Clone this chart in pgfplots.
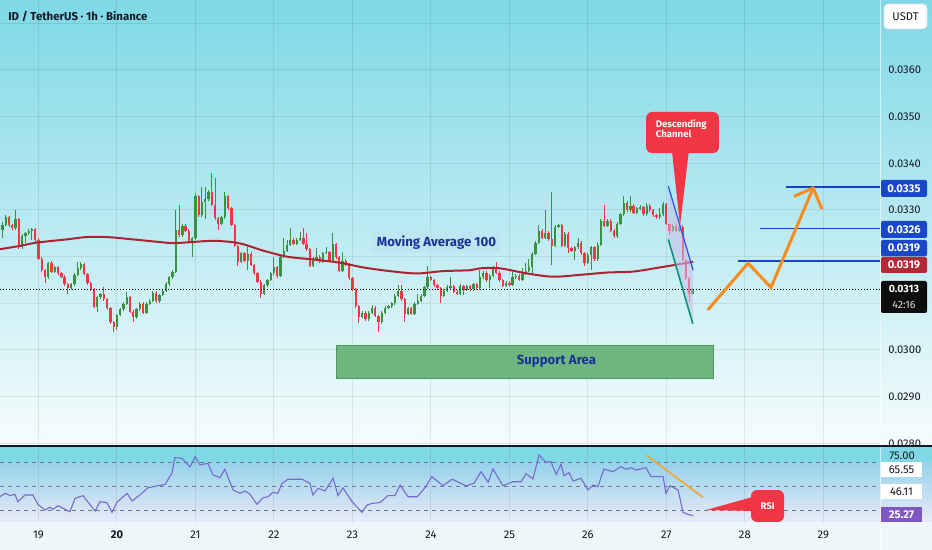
\documentclass[border=0pt]{standalone}
\usepackage{pgfplots}
\pgfplotsset{compat=1.18}
\usepackage{pgfplotstable}
\usepackage{fontspec}
\setmainfont{Fira Sans}
\definecolor{cgreen}{RGB}{56,146,62}
\definecolor{cred}{RGB}{242,54,69}
\definecolor{bgtop}{RGB}{126,216,230}
\definecolor{bgbot}{RGB}{246,252,253}
\definecolor{labcol}{RGB}{19,23,34}
\definecolor{macol}{RGB}{172,36,52}
\definecolor{levblue}{RGB}{22,66,196}
\definecolor{boxblue}{RGB}{24,72,200}
\definecolor{boxred}{RGB}{178,40,52}
\definecolor{orng}{RGB}{245,140,30}
\definecolor{rsiorng}{RGB}{240,170,60}
\definecolor{rsicol}{RGB}{118,106,204}
\definecolor{rsipurple}{RGB}{126,87,194}
\definecolor{suppfill}{RGB}{112,182,128}
\definecolor{suppdraw}{RGB}{80,150,95}
\definecolor{navy}{RGB}{22,52,150}
\definecolor{mabox}{RGB}{190,228,242}
\definecolor{chfill}{RGB}{200,190,235}
\definecolor{chblue}{RGB}{40,80,230}
\definecolor{chgreen}{RGB}{10,150,110}
\definecolor{rsiband}{RGB}{126,216,230}
\definecolor{rsitop}{RGB}{150,210,236}
\definecolor{rsibot}{RGB}{234,234,248}
\definecolor{datebg}{RGB}{238,248,250}
\definecolor{dashcol}{RGB}{110,120,135}

\pgfplotstableread{
t o h l c
-11 325.7 327.4 324.0 326.8
-10 326.8 328.9 326.5 328.4
-9 328.4 328.7 326.4 326.8
-8 326.8 327.1 325.8 326.1
-7 326.1 330.0 325.7 328.0
-6 328.0 328.3 321.7 322.0
-5 322.0 324.8 321.6 324.4
-4 324.4 325.3 322.9 325.0
-3 325.0 325.9 324.7 325.6
-2 325.6 326.2 323.6 325.9
-1 325.9 326.2 323.2 323.6
0 323.6 323.9 319.2 319.6
1 319.6 319.9 316.8 317.1
2 317.1 317.4 314.3 315.6
3 315.6 318.9 315.2 318.6
4 318.6 319.0 316.4 316.8
5 316.8 318.0 316.4 317.7
6 317.7 318.0 316.1 316.4
7 316.4 316.7 315.4 315.7
8 315.7 316.0 313.8 314.1
9 314.1 314.4 312.1 313.2
10 313.2 314.4 312.9 314.1
11 314.1 316.4 313.8 316.1
12 316.1 318.9 315.8 317.5
13 317.5 318.9 317.2 318.4
14 318.4 318.7 316.0 316.3
15 316.3 316.6 314.0 314.3
16 314.3 314.6 312.6 312.9
17 312.9 313.2 309.0 309.3
18 309.3 311.6 308.2 311.3
19 311.3 312.3 311.0 312.0
20 312.0 313.4 310.6 310.9
21 310.9 311.2 308.6 308.9
22 308.9 309.2 305.6 305.9
23 305.9 306.2 303.9 305.0
24 305.0 307.8 304.3 307.5
25 307.5 309.0 307.2 308.7
26 308.7 310.2 308.4 309.9
27 309.9 312.5 309.6 311.3
28 311.3 311.6 307.9 308.2
29 308.2 308.5 306.1 307.0
30 307.0 309.0 306.7 308.7
31 308.7 310.2 308.4 309.9
32 309.9 310.2 307.7 308.0
33 308.0 310.2 307.7 309.9
34 309.9 310.9 309.6 310.6
35 310.6 312.6 310.3 312.3
36 312.3 312.6 310.1 310.4
37 310.4 312.1 310.1 311.8
38 311.8 313.0 311.5 312.7
39 312.7 314.6 312.4 314.1
40 314.1 315.9 313.8 315.6
41 315.6 317.1 315.3 316.8
42 316.8 330.0 316.5 325.7
43 325.7 331.1 324.3 324.6
44 324.6 326.9 324.3 326.6
45 326.6 326.9 325.3 325.6
46 325.6 325.9 322.9 323.2
47 323.2 324.2 320.0 323.9
48 323.9 333.6 323.6 332.9
49 332.9 333.2 328.6 328.9
50 328.9 335.0 328.6 331.8
51 331.8 335.0 328.0 332.3
52 332.3 334.2 332.0 333.9
53 333.9 337.9 330.8 331.1
54 331.1 336.8 327.9 328.2
55 328.2 328.5 325.7 327.1
56 327.1 328.7 326.8 328.4
57 328.4 333.9 328.1 332.9
58 332.9 333.2 330.1 330.4
59 330.4 330.7 326.5 326.8
60 326.8 327.1 322.0 322.3
61 322.3 322.6 317.9 318.9
62 318.9 321.0 318.6 320.7
63 320.7 321.0 318.8 319.1
64 319.1 322.5 317.1 320.6
65 320.6 320.9 317.9 318.2
66 318.2 318.5 316.1 316.4
67 316.4 316.7 314.3 314.6
68 314.6 314.9 311.1 312.0
69 312.0 314.2 311.7 313.9
70 313.9 315.3 313.6 315.0
71 315.0 316.7 314.7 316.4
72 316.4 320.0 316.1 317.7
73 317.7 318.0 315.4 315.9
74 315.9 320.3 315.6 320.0
75 320.0 323.9 319.7 321.3
76 321.3 323.6 321.0 322.5
77 322.5 326.1 322.2 323.6
78 323.6 323.9 322.4 322.7
79 322.7 323.9 322.4 323.6
80 323.6 325.3 323.3 323.9
81 323.9 326.1 322.4 322.7
82 322.7 325.0 321.3 321.6
83 321.6 321.9 317.7 318.0
84 318.0 319.9 317.7 319.6
85 319.6 321.8 319.3 320.0
86 320.0 320.3 318.6 318.9
87 318.9 321.1 318.6 320.8
88 320.8 322.1 320.5 321.0
89 321.0 321.3 318.8 319.1
90 319.1 325.0 318.8 322.7
91 322.7 323.0 319.6 319.9
92 319.9 320.2 316.7 317.0
93 317.0 321.1 316.7 319.1
94 319.1 319.4 318.1 318.4
95 318.4 318.7 315.1 315.4
96 315.4 315.7 312.7 313.0
97 313.0 313.3 309.1 309.4
98 309.4 309.7 305.7 307.1
99 307.1 308.3 306.8 308.0
100 308.0 308.3 306.3 306.6
101 306.6 308.3 306.3 308.0
102 308.0 309.6 307.7 309.1
103 309.1 309.4 307.0 307.3
104 307.3 307.6 303.9 305.9
105 305.9 308.3 305.6 308.0
106 308.0 309.4 307.7 309.1
107 309.1 309.7 308.8 309.4
108 309.4 310.3 309.1 310.0
109 310.0 312.1 309.7 311.6
110 311.6 313.9 311.3 312.7
111 312.7 313.9 310.6 310.9
112 310.9 311.2 306.1 307.7
113 307.7 309.3 307.4 309.0
114 309.0 309.3 307.4 307.7
115 307.7 310.2 307.4 309.9
116 309.9 312.1 309.6 310.6
117 310.6 311.9 310.3 311.6
118 311.6 313.7 311.3 313.4
119 313.4 317.9 313.1 315.6
120 315.6 315.9 314.7 315.0
121 315.0 315.3 313.6 313.9
122 313.9 314.2 312.9 313.2
123 313.2 313.5 310.0 311.6
124 311.6 313.0 311.3 312.7
125 312.7 313.9 312.4 313.4
126 313.4 315.7 313.1 313.7
127 313.7 314.0 312.2 312.5
128 312.5 312.8 311.8 312.1
129 312.1 314.2 311.8 313.7
130 313.7 314.0 311.8 312.9
131 312.9 314.0 312.6 313.7
132 313.7 314.0 312.7 313.0
133 313.0 314.4 312.7 314.1
134 314.1 314.4 312.9 313.2
135 313.2 317.1 312.9 315.6
136 315.6 316.9 315.3 316.6
137 316.6 316.9 314.6 314.9
138 314.9 316.2 313.2 315.9
139 315.9 318.0 315.6 317.7
140 317.7 318.9 316.3 316.6
141 316.6 316.9 314.6 314.9
142 314.9 315.2 313.4 313.7
143 313.7 314.7 313.4 314.4
144 314.4 314.7 313.7 314.0
145 314.0 316.8 313.7 315.6
146 315.6 316.2 315.3 315.9
147 315.9 316.2 314.8 315.1
148 315.1 317.5 314.8 316.3
149 316.3 318.6 316.0 317.0
150 317.0 319.6 316.7 317.7
151 317.7 321.0 316.3 320.6
152 320.6 323.3 320.3 323.0
153 323.0 326.8 322.7 325.6
154 325.6 325.9 323.8 324.1
155 324.1 330.0 323.8 325.1
156 325.1 325.4 323.4 323.7
157 323.7 333.9 318.2 322.3
158 322.3 326.7 322.0 326.4
159 326.4 327.1 326.1 326.7
160 326.7 327.0 322.0 322.3
161 322.3 325.2 322.0 324.9
162 324.9 325.2 320.7 321.8
163 321.8 322.1 321.0 321.3
164 321.3 322.3 319.3 322.0
165 322.0 323.9 321.7 323.0
166 323.0 323.3 320.4 320.7
167 320.7 321.0 317.9 318.7
168 318.7 320.7 318.4 320.4
169 320.4 322.3 317.1 322.0
170 322.0 322.3 319.1 319.4
171 319.4 323.2 319.1 322.5
172 322.5 328.0 322.2 327.7
173 327.7 331.1 326.3 326.6
174 326.6 328.0 326.3 327.7
175 327.7 328.0 325.3 325.6
176 325.6 325.9 323.9 324.4
177 324.4 327.4 324.1 327.1
178 327.1 329.4 326.8 329.1
179 329.1 332.9 328.8 331.6
180 331.6 331.9 329.6 329.9
181 329.9 332.9 329.6 330.9
182 330.9 331.2 329.1 329.4
183 329.4 330.7 329.1 330.4
184 330.4 331.1 330.1 330.6
185 330.6 330.9 328.8 329.1
186 329.1 331.6 328.8 330.9
187 330.9 331.2 329.6 329.9
188 329.9 330.2 328.6 328.9
189 328.9 329.2 328.1 328.4
190 328.4 330.4 328.1 329.1
191 329.1 331.8 328.8 331.3
192 331.3 331.6 326.7 327.0
193 327.0 327.3 324.6 325.6
194 325.6 326.9 325.3 326.6
195 326.6 326.9 325.3 325.6
196 325.6 326.7 325.3 326.4
197 326.4 326.7 319.0 319.3
198 319.3 319.6 315.1 315.4
199 315.4 315.7 310.3 312.1
200 312.1 313.3 311.8 313.0
}\candles

\newcommand{\lab}{\fontsize{5.6pt}{6.5pt}\selectfont}

\begin{document}
\begin{tikzpicture}
\path[use as bounding box] (0pt,0pt) rectangle (466pt,275pt);
% main pane background
\begin{scope}[x=0.5pt,y=-0.5pt,yshift=275pt]
\shade[top color=bgtop, bottom color=bgbot] (0,0) rectangle (932,446);
\end{scope}

\begin{axis}[at={(0pt,52pt)}, anchor=south west, scale only axis,
  width=440pt, height=223pt,
  xmin=-11.77, xmax=257.34, ymin=279.43, ymax=375.0,
  axis line style={draw=none}, tick style={draw=none},
  xtick={0,24,...,240}, xticklabels={},
  ytick={280,290,...,370},
  yticklabels={0.0280,0.0290,0.0300,{},{},0.0330,0.0340,0.0350,0.0360,{}},
  yticklabel pos=right,
  yticklabel style={anchor=west, inner sep=0pt, xshift=4pt, font=\lab, text=labcol},
  xmajorgrids, ymajorgrids, grid style={black, opacity=0.08, line width=0.5pt},
  clip=false]
% support area
\addplot[fill=suppfill, draw=suppdraw, line width=0.4pt] coordinates {(91.0,294.0) (206.3,294.0) (206.3,300.9) (91.0,300.9)} -- cycle;
\node[font=\fontsize{6.6pt}{7pt}\selectfont\bfseries, text=navy] at (axis cs:158.4,297.6) {Support Area};
% candles: wicks then bodies
\addplot[draw=none, mark=none, restrict expr to domain={\thisrow{c}-\thisrow{o}}{0:1000},
  error bars/.cd, y dir=both, y explicit, error mark=none, error bar style={draw=cgreen, line width=0.5pt}]
  table[x=t, y expr={(\thisrow{h}+\thisrow{l})/2}, y error expr={(\thisrow{h}-\thisrow{l})/2}] {\candles};
\addplot[draw=none, mark=none, restrict expr to domain={\thisrow{o}-\thisrow{c}}{0.01:1000},
  error bars/.cd, y dir=both, y explicit, error mark=none, error bar style={draw=cred, line width=0.5pt}]
  table[x=t, y expr={(\thisrow{h}+\thisrow{l})/2}, y error expr={(\thisrow{h}-\thisrow{l})/2}] {\candles};
\addplot[draw=none, mark=none, restrict expr to domain={\thisrow{c}-\thisrow{o}}{0:1000},
  error bars/.cd, y dir=both, y explicit, error mark=none, error bar style={draw=cgreen, line width=1.15pt}]
  table[x=t, y expr={(\thisrow{o}+\thisrow{c})/2}, y error expr={abs(\thisrow{c}-\thisrow{o})/2}] {\candles};
\addplot[draw=none, mark=none, restrict expr to domain={\thisrow{o}-\thisrow{c}}{0.01:1000},
  error bars/.cd, y dir=both, y explicit, error mark=none, error bar style={draw=cred, line width=1.15pt}]
  table[x=t, y expr={(\thisrow{o}+\thisrow{c})/2}, y error expr={abs(\thisrow{c}-\thisrow{o})/2}] {\candles};
% moving average 100
\addplot[macol, line width=1pt, smooth] coordinates {
(-11.8,321.6) (-5.7,322.3) (-0.6,323.0) (8.6,323.7) (14.7,324.2) (20.9,324.2)
(28.9,323.7) (36.1,323.2) (41.1,322.9) (46.3,323.1) (53.4,323.4) (59.5,323.1)
(62.5,322.7) (68.7,321.3) (76.0,320.0) (83.9,319.4) (92.2,318.7) (99.2,317.7)
(107.5,316.9) (115.7,316.4) (123.7,316.9) (131.9,317.1) (135.0,317.5) (141.1,317.5)
(149.4,316.4) (157.3,315.7) (165.6,316.1) (173.9,316.6) (181.8,316.8) (190.1,317.7)
(200.2,318.9)};
\node[fill=mabox, fill opacity=0.75, text opacity=1, text=navy, inner sep=2pt,
  font=\fontsize{6.6pt}{7pt}\selectfont\bfseries] at (axis cs:121.7,323.1) {Moving Average 100};
% descending channel
\addplot[fill=chfill, draw=none, fill opacity=0.55] coordinates {(192.6,335.1) (200.2,317.1) (200.1,305.6) (192.6,323.7)} -- cycle;
\addplot[chblue, line width=0.6pt] coordinates {(192.6,335.1) (200.2,317.1)};
\addplot[chgreen, line width=0.8pt] coordinates {(192.6,323.7) (200.1,305.6)};
% last price dotted line
\addplot[black, line width=0.45pt, dash pattern=on 0.5pt off 1pt] coordinates {(-11.77,313.0) (257.34,313.0)};
% target levels
\addplot[levblue, line width=0.8pt] coordinates {(228.6,334.9) (257.34,334.9)};
\addplot[levblue, line width=0.8pt] coordinates {(220.6,326.0) (257.34,326.0)};
\addplot[levblue, line width=0.8pt] coordinates {(213.9,319.1) (257.34,319.1)};
% projected path
\addplot[orng, line width=1.5pt, line join=miter] coordinates {(204.7,308.6) (217.0,318.6) (224.0,313.4) (236.9,334.7)};
\addplot[orng, line width=1.5pt, line join=miter] coordinates {(231.0,332.9) (236.9,334.7) (239.6,330.2)};
% descending channel callout
\fill[cred, rounded corners=3pt] (axis cs:185.8,351.0) rectangle (axis cs:208.1,342.2);
\fill[cred] (axis cs:193.7,342.8) -- (axis cs:196.2,326.6) -- (axis cs:198.9,342.8) -- cycle;
\node[anchor=west, align=left, text=white, inner sep=0pt,
  font=\fontsize{4.8pt}{5.2pt}\selectfont\bfseries] at (axis cs:188.7,347.4) {Descending\\Channel};
\end{axis}

% RSI pane background
\begin{scope}[x=0.5pt,y=-0.5pt,yshift=275pt]
\fill[rsiband] (0,446) rectangle (932,463);
\shade[top color=rsitop, bottom color=rsibot] (0,463) rectangle (932,522);
\fill[datebg] (0,522) rectangle (932,550);
\draw[white, opacity=0.6, line width=0.5pt] (880,0) -- (880,550);
\draw[labcol, line width=0.6pt] (0,446) -- (932,446);
\end{scope}

\begin{axis}[at={(0pt,14pt)}, anchor=south west, scale only axis,
  width=440pt, height=38pt,
  xmin=-11.77, xmax=257.34, ymin=19.85, ymax=84.12,
  axis line style={draw=none}, tick style={draw=none},
  xtick={0,24,...,240},
  xticklabels={19,\textbf{20},21,22,23,24,25,26,27,28,29},
  xticklabel style={anchor=center, yshift=-6.5pt, inner sep=0pt, font=\lab, text=labcol},
  ytick=\empty,
  xmajorgrids, grid style={black, opacity=0.08, line width=0.5pt},
  clip=false]
\addplot[dashcol, line width=0.45pt, dash pattern=on 2pt off 2pt] coordinates {(-11.77,70) (257.34,70)};
\addplot[dashcol, line width=0.45pt, dash pattern=on 2pt off 2pt] coordinates {(-11.77,50) (257.34,50)};
\addplot[dashcol, line width=0.45pt, dash pattern=on 2pt off 2pt] coordinates {(-11.77,30) (257.34,30)};
\addplot[rsicol, line width=0.55pt] coordinates {
(-11.8,41.2) (-10.2,44.1) (-8.7,42.1) (-7.2,43.3) (-6.3,37.0) (-4.1,42.7) (-1.7,42.7)
(-0.2,34.8) (2.0,30.0) (3.5,32.3) (4.4,30.6) (6.0,33.6) (9.6,28.5) (11.2,39.9)
(13.6,42.1) (17.3,29.1) (18.8,37.0) (20.9,36.2) (22.5,28.0) (24.0,36.5) (27.1,44.1)
(28.6,37.6) (31.0,42.7) (33.5,48.8) (36.5,50.5) (38.7,51.7) (40.8,61.0) (41.7,74.2)
(43.9,73.7) (46.3,66.4) (47.9,75.1) (49.4,68.1) (51.8,69.5) (53.4,59.6) (55.5,57.3)
(57.0,64.4) (59.5,46.9) (61.6,44.1) (63.2,46.1) (64.7,43.3) (66.8,34.8) (68.7,40.4)
(70.2,41.2) (71.7,45.0) (73.2,44.1) (74.5,52.6) (76.3,56.0) (80.6,56.0) (83.0,52.6)
(83.9,42.7) (85.5,48.3) (87.6,46.1) (90.1,56.8) (91.6,42.1) (93.1,48.8) (95.9,37.0)
(98.9,28.0) (100.5,34.2) (102.0,35.6) (104.4,36.2) (106.9,42.1) (109.0,42.1) (110.6,51.1)
(113.0,41.2) (115.8,41.2) (118.2,48.8) (120.3,58.2) (123.7,50.5) (126.5,56.0) (130.7,50.5)
(133.2,52.6) (135.3,62.4) (137.5,53.4) (139.0,64.7) (142.0,50.5) (145.1,53.9) (147.6,53.9)
(149.1,60.7) (151.2,56.2) (153.1,76.5) (155.2,70.3) (156.7,70.8) (158.3,60.2) (159.8,68.6)
(160.7,59.0) (162.2,61.5) (163.5,54.5) (165.9,56.8) (168.0,46.9) (169.6,51.1) (171.1,49.7)
(172.9,64.7) (175.7,62.4) (178.1,66.6) (179.7,64.4) (181.2,65.8) (182.7,63.8) (185.8,65.8)
(187.3,58.2) (191.0,58.2) (191.9,44.1) (193.1,50.5) (195.6,46.9) (197.1,28.0) (198.6,26.3)
(200.2,25.3)};
\addplot[rsiorng, line width=0.9pt] coordinates {(185.8,76.5) (203.2,40.7)};
% RSI callout
\fill[cred, rounded corners=3pt] (axis cs:217.9,46.9) rectangle (axis cs:228.0,19.9);
\fill[cred] (axis cs:218.4,41.0) -- (axis cs:204.1,30.0) -- (axis cs:218.4,29.2) -- cycle;
\node[text=white, font=\fontsize{4.8pt}{5.2pt}\selectfont\bfseries] at (axis cs:223.0,33.4) {RSI};
\end{axis}

% right-hand price scale labels
\begin{scope}[x=0.5pt,y=-0.5pt,yshift=275pt]
\draw[fill=white, draw=black!12, line width=0.4pt, rounded corners=2pt] (884,4) rectangle (927,29);
\node[font=\lab, text=labcol] at (905.5,16.5) {USDT};
\fill[boxblue, rounded corners=1pt] (881,180) rectangle (927,197);
\node[font=\lab\bfseries, text=white] at (904,188.5) {0.0335};
\fill[boxblue, rounded corners=1pt] (881,221) rectangle (927,238);
\node[font=\lab\bfseries, text=white] at (904,229.5) {0.0326};
\fill[boxblue, rounded corners=1pt] (881,240) rectangle (927,256.5);
\node[font=\lab\bfseries, text=white] at (904,248.3) {0.0319};
\fill[boxred, rounded corners=1pt] (881,257) rectangle (927,273);
\node[font=\lab\bfseries, text=white] at (904,265) {0.0319};
\fill[black!95, rounded corners=1pt] (881,281) rectangle (927,313);
\node[font=\fontsize{5.3pt}{6pt}\selectfont\bfseries, text=white, inner sep=0pt] at (904,289) {0.0313};
\node[font=\fontsize{5.3pt}{6pt}\selectfont, text=white!85!black, inner sep=0pt] at (904,305) {42:16};
% RSI value labels
\node[font=\lab, text=labcol] at (902,455.5) {75.00};
\fill[white] (881,462) rectangle (922,477);
\node[font=\lab, text=labcol] at (901.5,469.5) {65.55};
\fill[white] (881,484) rectangle (922,499);
\node[font=\lab, text=labcol] at (901.5,491.5) {46.11};
\fill[rsipurple] (881,507) rectangle (922,522);
\node[font=\lab\bfseries, text=white] at (901.5,514.5) {25.27};
% title
\node[anchor=west, font=\fontsize{5.7pt}{6.5pt}\selectfont\bfseries, text=labcol, inner sep=0pt] at (8,16) {ID / TetherUS · 1h · Binance};
\end{scope}
\end{tikzpicture}
\end{document}
